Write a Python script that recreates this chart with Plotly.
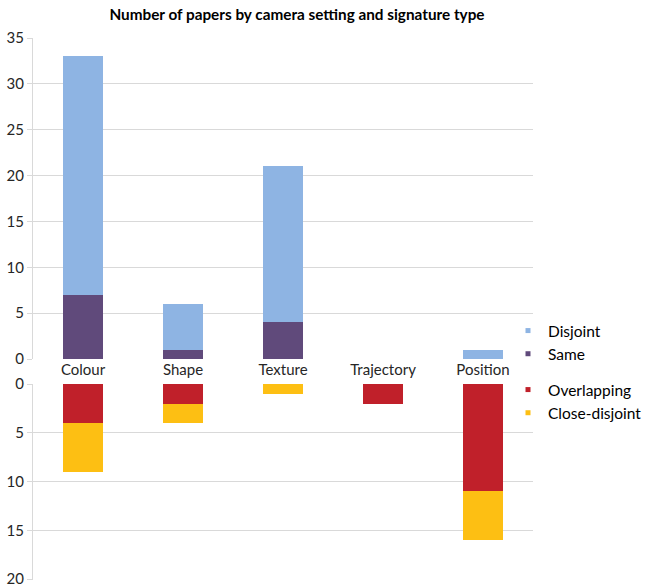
import plotly.graph_objects as go

categories = ["Colour", "Shape", "Texture", "Trajectory", "Position"]
same = [7, 1, 4, 0, 0]
disjoint = [26, 5, 17, 0, 1]
overlapping = [4, 2, 0, 2, 11]
close_disjoint = [5, 2, 1, 0, 5]

top_ticks = [0, 5, 10, 15, 20, 25, 30, 35]
bottom_ticks = [0, 5, 10, 15, 20]

C_DIS = "#8EB4E3"
C_SAME = "#604A7B"
C_OVER = "#C0202A"
C_CLOSE = "#FDBF13"

W, H = 647, 587
FONT = "Lato"

fig = go.Figure()

bar_line = dict(width=0)
fig.add_trace(go.Bar(x=categories, y=same, marker=dict(color=C_SAME, line=bar_line),
                     xaxis="x", yaxis="y", showlegend=False, name="Same"))
fig.add_trace(go.Bar(x=categories, y=disjoint, marker=dict(color=C_DIS, line=bar_line),
                     xaxis="x", yaxis="y", showlegend=False, name="Disjoint"))
fig.add_trace(go.Bar(x=categories, y=overlapping, marker=dict(color=C_OVER, line=bar_line),
                     xaxis="x2", yaxis="y2", showlegend=False, name="Overlapping"))
fig.add_trace(go.Bar(x=categories, y=close_disjoint, marker=dict(color=C_CLOSE, line=bar_line),
                     xaxis="x2", yaxis="y2", showlegend=False, name="Close-disjoint"))

# legend entries
for name, col, leg in [("Disjoint", C_DIS, "legend"), ("Same", C_SAME, "legend"),
                       ("Overlapping", C_OVER, "legend2"), ("Close-disjoint", C_CLOSE, "legend2")]:
    fig.add_trace(go.Scatter(x=[None], y=[None], mode="markers", name=name,
                             marker=dict(symbol="square", size=5, color=col),
                             legend=leg, xaxis="x", yaxis="y"))

x0, x1 = 33 / W, 533 / W
grid = "#D9D9D9"
tickfont = dict(family=FONT, size=15, color="#262626")
legfont = dict(family=FONT, size=15.5, color="black")

fig.update_layout(
    width=W, height=H,
    margin=dict(l=0, r=0, t=0, b=0, autoexpand=False),
    paper_bgcolor="white", plot_bgcolor="white",
    barmode="stack", bargap=0.6,
    title=dict(text="<b>Number of papers by camera setting and signature type</b>",
               x=297 / W, xanchor="center", y=1 - 15 / H, yanchor="middle",
               font=dict(family=FONT, size=15.3, color="black")),
    xaxis=dict(domain=[x0, x1], anchor="y", showgrid=False, showline=False,
               ticks="", tickfont=tickfont, automargin=False),
    yaxis=dict(domain=[1 - 359 / H, 1 - 38 / H], range=[0, 35], tickvals=top_ticks,
               showgrid=True, gridcolor=grid, gridwidth=1, zeroline=False,
               showline=True, linecolor=grid, ticks="outside", ticklen=5, tickcolor=grid,
               tickfont=tickfont, automargin=False, ticklabeloverflow="allow"),
    xaxis2=dict(domain=[x0, x1], anchor="y2", showgrid=False, showline=False,
                showticklabels=False, ticks="", matches="x", automargin=False),
    yaxis2=dict(domain=[1 - 580 / H, 1 - 384 / H], range=[20.1, 0], tickvals=bottom_ticks,
                showgrid=True, gridcolor=grid, gridwidth=1, zeroline=False,
                showline=True, linecolor=grid, ticks="outside", ticklen=5, tickcolor=grid,
                tickfont=tickfont, automargin=False, ticklabeloverflow="allow"),
    legend=dict(x=508 / W, xanchor="left", y=1 - 314 / H, yanchor="top",
                font=legfont, bgcolor="rgba(0,0,0,0)", traceorder="normal",
                tracegroupgap=0, itemwidth=30),
    legend2=dict(x=508 / W, xanchor="left", y=1 - 373 / H, yanchor="top",
                 font=legfont, bgcolor="rgba(0,0,0,0)", traceorder="normal",
                 tracegroupgap=0, itemwidth=30),
)

fig.write_html("out.html")
